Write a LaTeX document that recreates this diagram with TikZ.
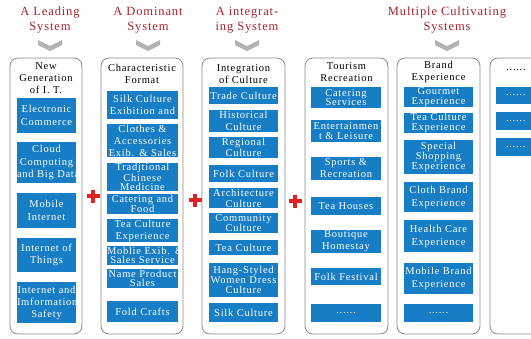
\documentclass[tikz,border=0pt]{standalone}
\usepackage{fontspec}
\setmainfont{Liberation Serif}[LetterSpace=7]
\usepackage{tikz}
\usetikzlibrary{positioning}
\hyphenpenalty=10000
\exhyphenpenalty=10000

\definecolor{boxblue}{RGB}{23,125,196}
\definecolor{headred}{RGB}{172,32,42}
\definecolor{plusred}{RGB}{222,34,34}
\definecolor{framegray}{RGB}{140,140,140}
\newcommand{\moredots}{......}

\begin{document}
\begin{tikzpicture}[x=1pt, y=-1pt,
    column/.style={draw=framegray, line width=0.8pt, rounded corners=8pt},
    item/.style={fill=boxblue, text=white, inner sep=0pt, align=center},
    title/.style={align=center, font=\fontsize{10.5}{12}\selectfont},
    heading/.style={align=center, text=headred, font=\fontsize{12.5}{15}\selectfont},
    chevron/.style={fill=gray!60},
    plus/.style={draw=plusred, line width=3.4pt}]

\useasboundingbox (0,0) rectangle (531,338);
\clip (0,0) rectangle (531,338);

% the four systems
\foreach \name/\x/\txt in {leading/50/A Leading\\System, dominant/148/A Dominant\\System,
    integrating/247/A integrat-\\ing System, cultivating/447/Multiple Cultivating\\Systems} {
    \node[heading] (\name) at (\x,20) {\txt};
    \fill[chevron] (\x,40) ++(-12,0) -- ++(12,6) -- ++(12,-6) -- ++(0,5) -- ++(-12,6) -- ++(-12,-6) -- cycle;
}

\foreach \name/\x/\y/\txt in {newit/46/78/New\\Generation\\of I. T., charfmt/142/74/Characteristic\\Format,
    integr/243.5/74/Integration\\of Culture, tourism/346.5/72/Tourism\\Recreation,
    brandexp/438.5/71.5/Brand\\Experience} {
    \node[title] (\name) at (\x,\y) {\txt};
}
\node[title] (moretitle) at (516,70) {\moredots};

\foreach \y/\h/\ls/\txt [count=\i] in {115.5/35/12.5/Electronic\\Commerce,
    162.5/41/12.5/Cloud\\Computing\\\mbox{and Big Data},
    210.5/35/12.5/Mobile\\Internet,
    255/34/12.5/Internet of\\Things,
    302.5/41/12/Internet and\\Imformation\\Safety} {
    \node[item, text width=59pt, minimum height=\h, font=\fontsize{10.5}{\ls}\selectfont] (lead\i) at (46.5,\y) {\txt};
}

\foreach \y/\h/\ls/\txt [count=\i] in {105/28/11.7/Silk Culture\\Exibition and,
    140.5/33/12/Clothes \&\\Accessories\\Exib. \& Sales,
    177/28/9.4/Tradjtional\\Chinese\\Medicine,
    204/20/9.2/Catering and\\Food,
    230.5/23/12/Tea Culture\\Experience,
    255.5/19/9.2/\mbox{Moblie Exib. \&}\\Sales Service,
    278.5/19/9.3/Name Product\\Sales,
    311.5/21/12/Fold Crafts} {
    \node[item, text width=71pt, minimum height=\h, font=\fontsize{10.5}{\ls}\selectfont] (fmt\i) at (142.5,\y) {\txt};
}

\foreach \y/\h/\ls/\txt [count=\i] in {95.5/17/12/Trade Culture,
    121/22/11.7/Historical\\Culture,
    147.5/21/11.7/Regional\\Culture,
    173.5/17/12/Folk Culture,
    198/20/11/Architecture\\Culture,
    223/20/10.7/Community\\Culture,
    247.5/15/12/Tea Culture,
    280/34/9.8/Hang-Styled\\Women Dress\\Culture,
    312.5/19/12/Silk Culture} {
    \node[item, text width=69pt, minimum height=\h, font=\fontsize{10.5}{\ls}\selectfont] (cult\i) at (243.5,\y) {\txt};
}

\foreach \y/\h/\ls/\txt [count=\i] in {97.5/21/9.3/Catering\\Services,
    131/22/10/Entertainmen\\t \& Leisure,
    168.5/23/12/Sports \&\\Recreation,
    206/18/12/Tea Houses,
    241.5/23/12/Boutique\\Homestay,
    276.5/17/12/Folk Festival,
    313/18/12/\moredots} {
    \node[item, text width=70pt, minimum height=\h, font=\fontsize{10.5}{\ls}\selectfont] (tour\i) at (346,\y) {\txt};
}

\foreach \y/\h/\ls/\txt [count=\i] in {97/20/10/Gourmet\\Experience,
    123/20/9.2/Tea Culture\\Experience,
    157/34/9.8/Special\\Shopping\\Experience,
    197/30/13/Cloth Brand\\Experience,
    236/32/13/Health Care\\Experience,
    278.5/31/12.3/Mobile Brand\\Experience,
    313/18/12/\moredots} {
    \node[item, text width=69pt, minimum height=\h, font=\fontsize{10.5}{\ls}\selectfont] (brand\i) at (438.5,\y) {\txt};
}

\foreach \y/\h [count=\i] in {95.5/17, 121/18, 147/18} {
    \node[item, text width=50pt, inner xsep=10pt, align=left, minimum height=\h, font=\fontsize{10.5}{12}\selectfont] (more\i) at (531,\y) {\moredots};
}

\foreach \l/\r in {10/82, 101/183, 202/285, 305/388, 397/480, 490/573} {
    \draw[column] (\l,58) rectangle (\r,334);
}

% plus signs between the first columns
\foreach \x/\y in {93/196, 195/200, 295/201} {
    \draw[plus] (\x,\y) ++(-6.5,0) -- ++(13,0);
    \draw[plus] (\x,\y) ++(0,-6.5) -- ++(0,13);
}

\end{tikzpicture}
\end{document}
